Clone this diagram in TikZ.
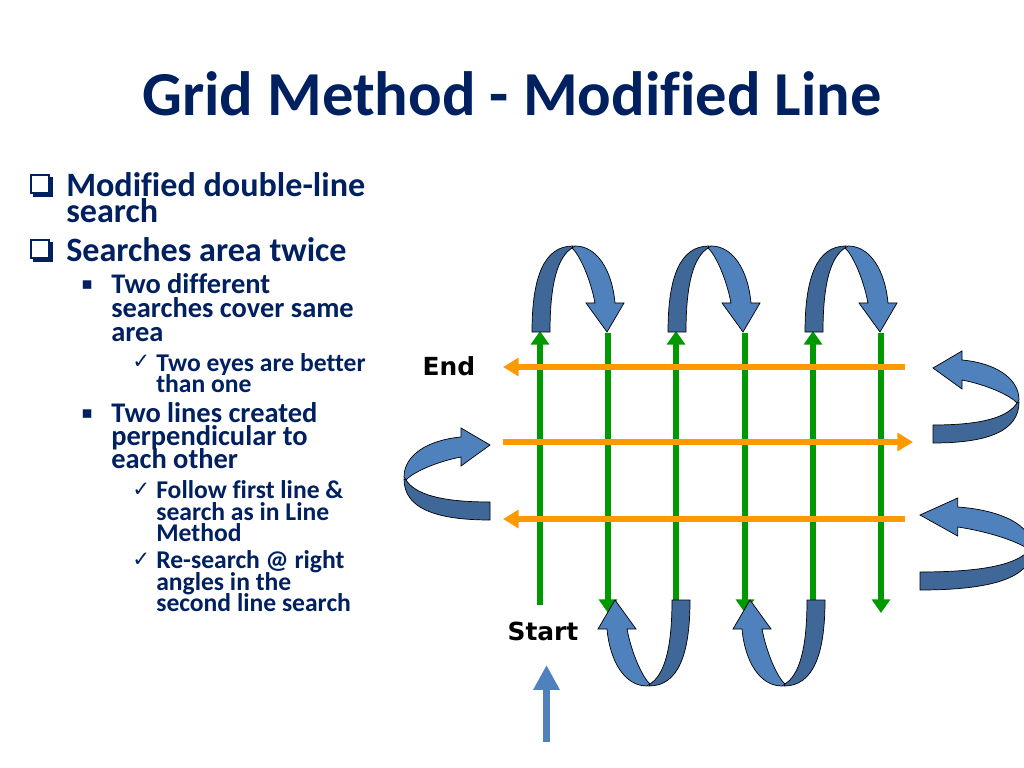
\documentclass[tikz,border=0pt]{standalone}
\usepackage{fontspec}
\setmainfont{Carlito}[Ligatures=CommonOff]
\newfontfamily\dejavu{DejaVu Sans}
\usetikzlibrary{arrows.meta}
\definecolor{navy}{HTML}{002060}
\definecolor{grn}{HTML}{009900}
\definecolor{org}{HTML}{FF9900}
\definecolor{blueL}{HTML}{4F81BD}
\definecolor{blueD}{HTML}{3F6899}
\newcommand\uturnshape{%
 \filldraw[turnlight] (40,-84) .. controls (47,-78) and (58,-55) .. (63,-29) -- (54,-29) -- (75,0) -- (92,-29) -- (83,-29) .. controls (80,-62) and (65,-86) .. (43,-86) -- cycle;
 \filldraw[turndark] (0,0) .. controls (0,-55) and (12,-86) .. (41,-86) -- (40,-84) .. controls (26,-75) and (18,-50) .. (18,0) -- cycle;}
\newcommand\boxbullet[2]{%
 \draw[navy, line width=1.1pt] (#1+1,#2+1) rectangle (#1+19,#2+19);
 \fill[navy] (#1+19,#2+3) rectangle (#1+23,#2+23);
 \fill[navy] (#1+3,#2+19) rectangle (#1+23,#2+23);}
\tikzset{
 turnlight/.style={fill=blueL, draw=black, line width=0.5pt},
 turndark/.style={fill=blueD, draw=black, line width=0.5pt},
 greenline/.style={draw=grn, line width=4pt, -{Triangle[width=12.5pt,length=9.5pt]}},
 orangeline/.style={draw=org, line width=4.2pt, -{Triangle[width=12.5pt,length=11pt]}},
 lone/.style={anchor=base west, text=navy, font=\fontsize{24}{24}\selectfont\bfseries, inner sep=0pt},
 ltwo/.style={anchor=base west, text=navy, font=\fontsize{20}{20}\selectfont\bfseries, inner sep=0pt},
 lthree/.style={anchor=base west, text=navy, font=\fontsize{18}{18}\selectfont\bfseries, inner sep=0pt},
 bultwo/.style={anchor=base west, text=navy, font=\dejavu\fontsize{12}{12}\selectfont, inner sep=0pt},
 bulthree/.style={anchor=base west, text=navy, font=\dejavu\fontsize{15}{15}\selectfont, inner sep=0pt},
 lbl/.style={anchor=base, text=black, font=\dejavu\fontsize{17.5}{17.5}\selectfont\bfseries, inner sep=0pt}
}
\begin{document}
\begin{tikzpicture}[x=0.703125pt, y=-0.703125pt]
\useasboundingbox (0,0) rectangle (1024,768);
\fill[white] (0,0) rectangle (1024,768);
% title
\node[anchor=base, text=navy, font=\fontsize{44}{44}\selectfont\bfseries, inner sep=0pt] (title) at (512,116) {Grid Method - Modified Line};
% bullets
\boxbullet{30}{174}
\node[lone] (t1a) at (66,197) {Modified double-line};
\node[lone] (t1b) at (66,223) {search};
\boxbullet{30}{239}
\node[lone] (t2a) at (66,262) {Searches area twice};
\node[bultwo] (b21) at (81,290) {▪};
\node[ltwo] (t21a) at (111,294) {Two different};
\node[ltwo] (t21b) at (111,317) {searches cover same};
\node[ltwo] (t21c) at (111,341) {area};
\node[bulthree] (c211) at (132,368) {✓};
\node[lthree] (t211a) at (156,371) {Two eyes are better};
\node[lthree] (t211b) at (156,392) {than one};
\node[bultwo] (b22) at (81,418) {▪};
\node[ltwo] (t22a) at (111,422) {Two lines created};
\node[ltwo] (t22b) at (111,445) {perpendicular to};
\node[ltwo] (t22c) at (111,468) {each other};
\node[bulthree] (c221) at (132,496) {✓};
\node[lthree] (t221a) at (156,498) {Follow first line \&};
\node[lthree] (t221b) at (156,520) {search as in Line};
\node[lthree] (t221c) at (156,541) {Method};
\node[bulthree] (c222) at (132,566) {✓};
\node[lthree] (t222a) at (156,568) {Re-search @ right};
\node[lthree] (t222b) at (156,590) {angles in the};
\node[lthree] (t222c) at (156,611) {second line search};
% labels
\node[lbl] (endlbl) at (449,375) {End};
\node[lbl] (startlbl) at (543,640) {Start};
% green lines
\foreach \i/\x in {1/540,2/676,3/813} {
  \coordinate (ua\i) at (\x,605); \coordinate (ub\i) at (\x,331);
  \draw[greenline] (ua\i) -- (ub\i);
}
\foreach \i/\x in {1/608,2/745,3/881} {
  \coordinate (da\i) at (\x,333); \coordinate (db\i) at (\x,613);
  \draw[greenline] (da\i) -- (db\i);
}
% orange lines
\coordinate (oa1) at (905,367); \coordinate (ob1) at (503,367);
\coordinate (oa2) at (503,442); \coordinate (ob2) at (913,442);
\coordinate (oa3) at (905,519); \coordinate (ob3) at (503,519);
\draw[orangeline] (oa1) -- (ob1);
\draw[orangeline] (oa2) -- (ob2);
\draw[orangeline] (oa3) -- (ob3);
% curved arrows top
\foreach \x in {532,668,805} {
  \begin{scope}[shift={(\x,332)}] \uturnshape \end{scope}
}
% bottom
\foreach \x in {690,825} {
  \begin{scope}[shift={(\x,600)}, rotate=180] \uturnshape \end{scope}
}
% left
\begin{scope}[shift={(490,520)}, rotate=90] \uturnshape \end{scope}
% right
\begin{scope}[shift={(933,443)}, cm={0,1,1,0,(0,0)}] \uturnshape \end{scope}
\begin{scope}[shift={(920,590)}, cm={0,1,1,0,(0,0)}, yscale=1.3] \uturnshape \end{scope}
% start arrow
\coordinate (sa) at (546.5,742); \coordinate (sb) at (546.5,665);
\draw[draw=blueL, line width=5pt, -{Triangle[width=17.5pt,length=17.5pt]}] (sa) -- (sb);
\end{tikzpicture}
\end{document}
